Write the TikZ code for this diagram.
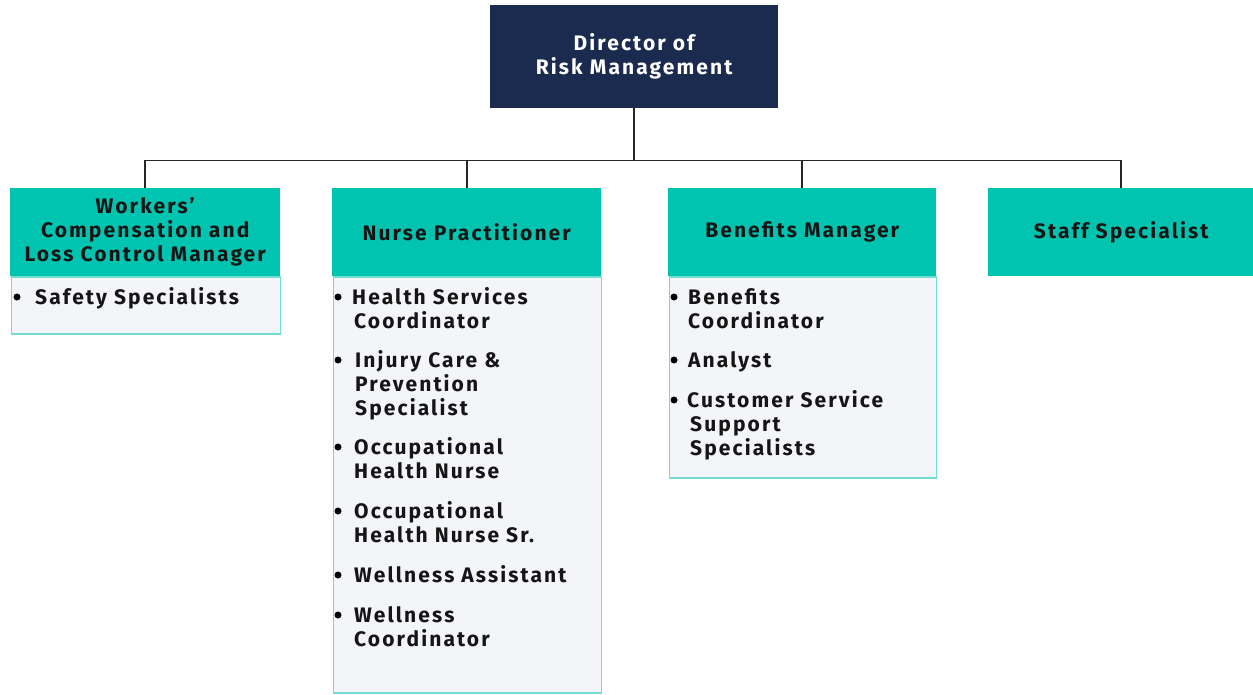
\documentclass[tikz,border=0pt]{standalone}
\usepackage{fontspec}
\setmainfont{Fira Sans}[LetterSpace=10]
\definecolor{navy}{HTML}{1B2B4F}
\definecolor{tealh}{HTML}{00C4B0}
\definecolor{tealb}{HTML}{74DCD2}
\definecolor{bodyg}{HTML}{F4F5F8}
\definecolor{inkc}{HTML}{151515}
\tikzset{
  txt/.style={font=\fontsize{21}{24}\selectfont\bfseries, text=inkc},
  dirbox/.style={fill=navy, draw=none, inner sep=0pt, anchor=north west, align=center, text=white, font=\fontsize{21}{24}\selectfont\bfseries},
  hdr/.style={fill=tealh, draw=none, inner sep=0pt, anchor=north west, align=center, txt, minimum height=88pt},
  bodybox/.style={fill=bodyg, draw=tealb, line width=1.6pt, inner sep=0pt, anchor=north west},
  item/.style={txt, inner sep=0pt, anchor=base west},
  dot/.style={circle, fill=black, inner sep=0pt, minimum size=7pt},
  conn/.style={draw=black!85, line width=1.6pt}
}
\newcommand{\itm}[4]{% name, x, baseline y, text
  \node[item] (#1) at (#2,#3) {#4};}
\begin{document}
\begin{tikzpicture}[x=1pt,y=-1pt]
\useasboundingbox (0,0) rectangle (1253,694);
% director
\node[dirbox, minimum width=288pt, minimum height=103pt] (dir) at (490,5) {Director of\\Risk Management};
% headers
\node[hdr, minimum width=270pt] (h1) at (10,188) {Workers’\\Compensation and\\Loss Control Manager};
\node[hdr, minimum width=269pt] (h2) at (332,188) {Nurse Practitioner};
\node[hdr, minimum width=268pt] (h3) at (668,188) {Benefits Manager};
\node[hdr, minimum width=266pt] (h4) at (988,188) {Staff Specialist};
% bodies
\node[bodybox, minimum width=269pt, minimum height=57pt] (b1) at (10.5,276) {};
\node[bodybox, minimum width=268pt, minimum height=416pt] (b2) at (332.5,276) {};
\node[bodybox, minimum width=267pt, minimum height=201pt] (b3) at (668.5,276) {};
% connectors
\draw[conn] (dir.south) -- ++(0,52) coordinate (bus);
\draw[conn] (h1.north) |- (bus) -| (h4.north);
\draw[conn] (h2.north) -- (h2.north |- bus);
\draw[conn] (h3.north) -- (h3.north |- bus);
% box 1 items
\node[dot] (d11) at (17,297) {};
\itm{t11}{35}{304}{Safety Specialists}
% box 2 items
\node[dot] (d21) at (338,297) {};
\itm{t21a}{352}{304}{Health Services}
\itm{t21b}{354}{328}{Coordinator}
\node[dot] (d22) at (338,360) {};
\itm{t22a}{355}{367}{Injury Care \&}
\itm{t22b}{355}{391}{Prevention}
\itm{t22c}{355}{415}{Specialist}
\node[dot] (d23) at (338,447) {};
\itm{t23a}{354}{454}{Occupational}
\itm{t23b}{354}{478}{Health Nurse}
\node[dot] (d24) at (338,511) {};
\itm{t24a}{354}{518}{Occupational}
\itm{t24b}{354}{542}{Health Nurse Sr.}
\node[dot] (d25) at (338,575) {};
\itm{t25a}{354}{582}{Wellness Assistant}
\node[dot] (d26) at (338,615) {};
\itm{t26a}{354}{622}{Wellness}
\itm{t26b}{354}{646}{Coordinator}
% box 3 items
\node[dot] (d31) at (674,297) {};
\itm{t31a}{688}{304}{Benefits}
\itm{t31b}{688}{328}{Coordinator}
\node[dot] (d32) at (674,360) {};
\itm{t32a}{688}{367}{Analyst}
\node[dot] (d33) at (674,400) {};
\itm{t33a}{687}{407}{Customer Service}
\itm{t33b}{690}{431}{Support}
\itm{t33c}{690}{455}{Specialists}
\end{tikzpicture}
\end{document}
